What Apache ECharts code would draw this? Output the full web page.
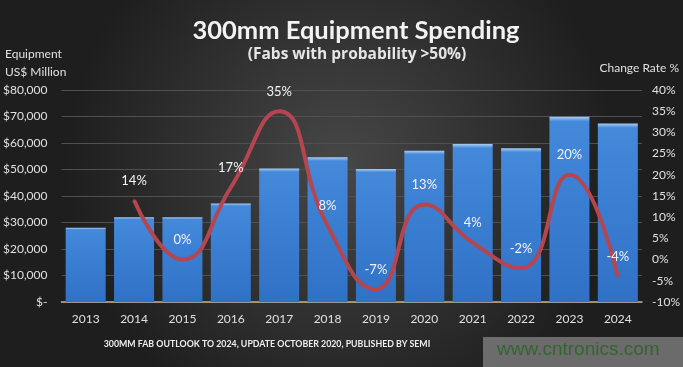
<!DOCTYPE html>
<html>
<head>
<meta charset="utf-8">
<script src="https://cdn.jsdelivr.net/npm/echarts@6/dist/echarts.min.js"></script>
<style>html,body{margin:0;padding:0;background:#2a2a2a;}#c{width:683px;height:367px;}</style>
</head>
<body>
<div id="c"></div>
<script>
var years = ['2013','2014','2015','2016','2017','2018','2019','2020','2021','2022','2023','2024'];
var spending = [28000, 32000, 32000, 37200, 50400, 54600, 50200, 57100, 59600, 58000, 69900, 67400];
var changeRate = [null, 14, 0, 17, 35, 8, -7, 13, 4, -2, 20, -4];
var leftTicks = {min: 0, max: 80000, interval: 10000};
var rightTicks = {min: -10, max: 40, interval: 5};

var FONT = 'Lato, "Liberation Sans", sans-serif';
var chart = echarts.init(document.getElementById('c'));
chart.setOption({
  backgroundColor: new echarts.graphic.RadialGradient(0.5, 0.45, 0.75, [
    {offset: 0, color: '#474747'},
    {offset: 1, color: '#1e1e1e'}
  ]),
  animation: false,
  graphic: [
    {type: 'text', x: 356, y: 18, style: {text: '300mm Equipment Spending', fill: '#f2f2f2', font: 'bold 25.5px ' + FONT, textAlign: 'center'}},
    {type: 'text', x: 357, y: 47, style: {text: '(Fabs with probability >50%)', fill: '#e6e6e6', font: 'bold 15.5px "Open Sans", sans-serif', textAlign: 'center'}},
    {type: 'text', left: 5, top: 45, style: {text: 'Equipment\nUS$ Million', fill: '#e0e0e0', font: '12px ' + FONT, lineHeight: 18}},
    {type: 'text', right: 4, top: 62, style: {text: 'Change Rate %', fill: '#e0e0e0', font: '12px ' + FONT}},
    {type: 'text', x: 267, y: 340, style: {text: '300MM FAB OUTLOOK TO 2024, UPDATE OCTOBER 2020, PUBLISHED BY SEMI', fill: '#eeeeee', font: 'bold 8.8px ' + FONT, textAlign: 'center'}},
    {type: 'rect', z: 10, shape: {x: 483, y: 337, width: 200, height: 30}, style: {fill: 'rgba(140,140,140,0.7)'}},
    {type: 'text', z: 11, left: 497, top: 340, style: {text: 'www.cntronics.com', fill: '#33662f', font: '19px "Liberation Sans", sans-serif'}}
  ],
  grid: {left: 57, right: 37, top: 90, bottom: 65, containLabel: false},
  xAxis: {
    type: 'category', data: years,
    axisLine: {lineStyle: {color: '#b0b0b0', width: 1.5}},
    axisTick: {show: false},
    axisLabel: {color: '#e0e0e0', fontSize: 12, margin: 11, fontFamily: FONT}
  },
  yAxis: [
    {type: 'value', min: leftTicks.min, max: leftTicks.max, interval: leftTicks.interval,
     axisLine: {show: false}, axisTick: {show: false},
     splitLine: {lineStyle: {color: '#505050', width: 1}},
     axisLabel: {color: '#e0e0e0', fontSize: 12, margin: 14, fontFamily: FONT,
       formatter: function (v) { return v === 0 ? '$-' : '$' + v.toLocaleString('en-US'); }}},
    {type: 'value', min: rightTicks.min, max: rightTicks.max, interval: rightTicks.interval,
     axisLine: {show: false}, axisTick: {show: false}, splitLine: {show: false},
     axisLabel: {color: '#e0e0e0', fontSize: 12, margin: 10, fontFamily: FONT, formatter: '{value}%'}}
  ],
  series: [
    {type: 'bar', data: spending, yAxisIndex: 0, barWidth: 40, z: 2,
     itemStyle: {color: new echarts.graphic.LinearGradient(0, 0, 0, 1, [
       {offset: 0, color: '#a9cdf5'},
       {offset: 0.025, color: '#4589da'},
       {offset: 0.3, color: '#3d82d5'},
       {offset: 1, color: '#3071c6'}
     ])}},
    {type: 'line', data: changeRate, yAxisIndex: 1, smooth: 0.5, symbol: 'circle', symbolSize: 2, showSymbol: true, showAllSymbol: true, z: 3,
     itemStyle: {color: '#b5454f'},
     lineStyle: {color: '#b5454f', width: 4},
     label: {show: true, position: 'top', distance: 12, color: '#f4f4f4', fontSize: 13, fontFamily: FONT,
       formatter: function (p) { return p.value + '%'; }}}
  ]
});
</script>
</body>
</html>
